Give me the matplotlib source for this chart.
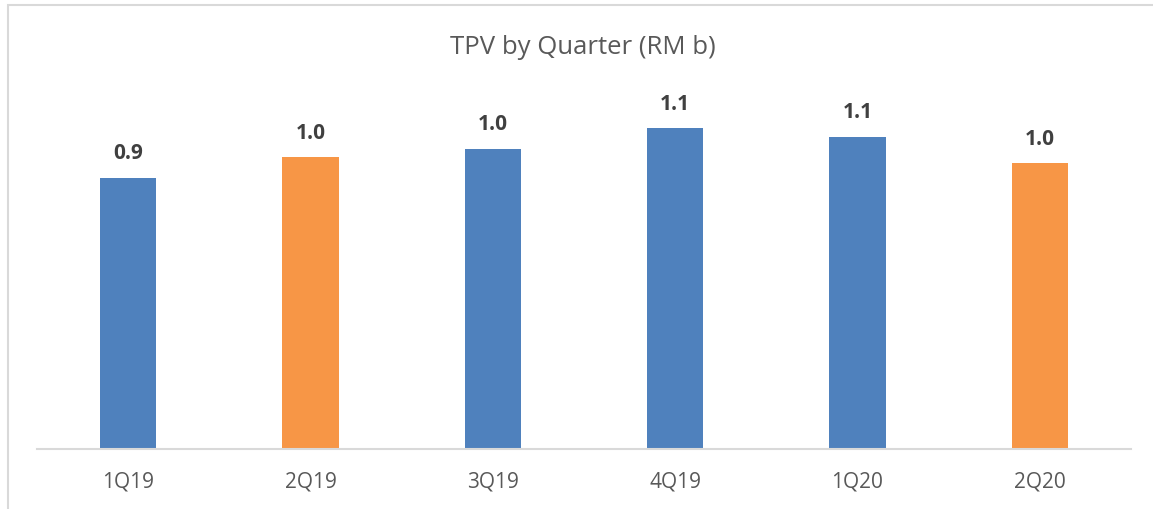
import matplotlib
matplotlib.use("Agg")
import matplotlib.pyplot as plt
from matplotlib.patches import Rectangle

quarters = ["1Q19", "2Q19", "3Q19", "4Q19", "1Q20", "2Q20"]
tpv = [0.93, 1.00, 1.03, 1.10, 1.07, 0.98]
labels = ["0.9", "1.0", "1.0", "1.1", "1.1", "1.0"]
colors = ["#4F81BD", "#F79646", "#4F81BD", "#4F81BD", "#4F81BD", "#F79646"]

plt.rcParams['font.family'] = ['Open Sans', 'DejaVu Sans']

W, H = 1153, 510
fig = plt.figure(figsize=(W / 100, H / 100), dpi=100)
fig.patch.set_facecolor("white")

# outer chart frame (cropped at right and bottom)
fig.patches.append(Rectangle((8 / W, -0.05), 1.2, (1 - 6 / H) + 0.05,
                             transform=fig.transFigure, fill=False,
                             edgecolor="#d9d9d9", linewidth=1.5))

ax = fig.add_axes([37 / W, 1 - 450 / H, (1131 - 37) / W, 350 / H])
x = range(len(quarters))
bars = ax.bar(x, tpv, width=0.31, color=colors)
ax.set_xlim(-0.5, len(quarters) - 0.5)
ax.set_ylim(0, 1.2)

for b, lab in zip(bars, labels):
    ax.annotate(lab, (b.get_x() + b.get_width() / 2, b.get_height()),
                xytext=(0, 18), textcoords="offset points", ha="center",
                va="center", fontsize=15, fontweight="bold", color="#404040")

ax.set_xticks(list(x))
ax.set_xticklabels(quarters, fontsize=15, color="#595959")
ax.tick_params(axis="x", length=0, pad=15.5)
ax.set_yticks([])
for s in ["top", "right", "left"]:
    ax.spines[s].set_visible(False)
ax.spines["bottom"].set_color("#d9d9d9")
ax.spines["bottom"].set_linewidth(1.5)

fig.text(583 / W, 1 - 47 / H, "TPV by Quarter (RM b)", ha="center", va="center",
         fontsize=18.5, color="#595959")

fig.savefig("out.png", dpi=100)
